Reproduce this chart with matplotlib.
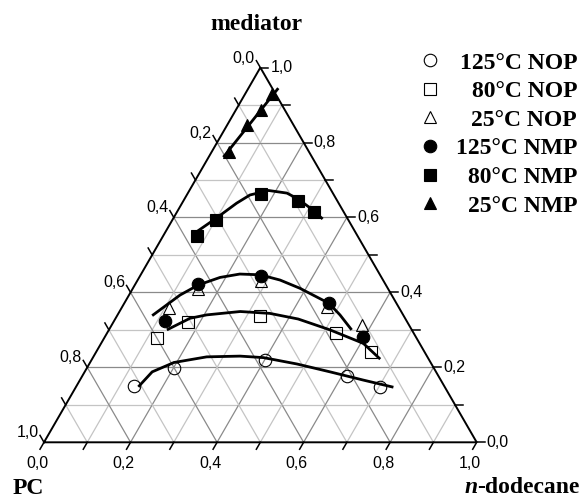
import numpy as np
import matplotlib
matplotlib.use('Agg')
import matplotlib.pyplot as plt

# ---------------- data: (n-dodecane fraction, mediator fraction) ----------------
nop125_dodecane = [0.134, 0.201, 0.401, 0.611, 0.702]
nop125_mediator = [0.150, 0.198, 0.220, 0.177, 0.148]

nop80_dodecane = [0.121, 0.171, 0.330, 0.529, 0.636]
nop80_mediator = [0.279, 0.322, 0.338, 0.291, 0.240]

nop25_dodecane = [0.111, 0.151, 0.285, 0.472, 0.578]
nop25_mediator = [0.358, 0.409, 0.431, 0.362, 0.313]

nmp125_dodecane = [0.116, 0.146, 0.278, 0.473, 0.598]
nmp125_mediator = [0.325, 0.422, 0.445, 0.371, 0.280]

nmp80_dodecane = [0.077, 0.101, 0.170, 0.265, 0.317]
nmp80_mediator = [0.551, 0.593, 0.663, 0.645, 0.615]

nmp25_dodecane = [0.061, 0.058, 0.045, 0.040]
nmp25_mediator = [0.930, 0.887, 0.847, 0.776]

# fitted curves
curve_nop125_dodecane = [0.144, 0.156, 0.194, 0.262, 0.338, 0.394, 0.480, 0.567, 0.655, 0.734]
curve_nop125_mediator = [0.148, 0.188, 0.213, 0.228, 0.230, 0.226, 0.209, 0.188, 0.166, 0.147]

curve_nop80_dodecane = [0.134, 0.172, 0.206, 0.279, 0.350, 0.423, 0.511, 0.606, 0.666]
curve_nop80_mediator = [0.300, 0.331, 0.340, 0.349, 0.344, 0.329, 0.300, 0.264, 0.222]

curve_nmp125_dodecane = [0.081, 0.118, 0.147, 0.187, 0.228, 0.276, 0.329, 0.386, 0.473, 0.514, 0.561]
curve_nmp125_mediator = [0.338, 0.393, 0.420, 0.440, 0.449, 0.447, 0.433, 0.411, 0.371, 0.340, 0.300]

curve_nmp80_dodecane = [0.072, 0.099, 0.126, 0.146, 0.183, 0.229, 0.263, 0.303, 0.346]
curve_nmp80_mediator = [0.562, 0.598, 0.638, 0.660, 0.672, 0.665, 0.649, 0.625, 0.596]

curve_nmp25_dodecane = [0.069, 0.034]
curve_nmp25_mediator = [0.945, 0.761]

tick_values = [0.0, 0.2, 0.4, 0.6, 0.8, 1.0]
tick_labels = ['0,0', '0,2', '0,4', '0,6', '0,8', '1,0']

legend_labels = ['125°C NOP', '80°C NOP', '25°C NOP', '125°C NMP', '80°C NMP', '25°C NMP']

# ---------------- geometry ----------------
S3 = np.sqrt(3) / 2
PXU = 432.7          # pixels per unit side
X0, Y0 = 44.0, 442.3  # pixel position of PC vertex (from top-left)


def tern(d, m):
    d = np.asarray(d, float)
    m = np.asarray(m, float)
    return d + m / 2, m * S3


def px(xp, yp):
    return (xp - X0) / PXU, (Y0 - yp) / PXU


fig = plt.figure(figsize=(5.83, 5.0), dpi=100)
ax = fig.add_axes([0, 0, 1, 1])
ax.set_xlim(px(0, 0)[0], px(583, 0)[0])
ax.set_ylim(px(0, 500)[1], px(0, 0)[1])
ax.axis('off')

serif = ['Liberation Serif', 'DejaVu Serif']
sans = ['Liberation Sans', 'DejaVu Sans']

# grid
for i in range(1, 10):
    t = i / 10
    col = '#8a8a8a' if i % 2 == 0 else '#c4c4c4'
    for (d1, m1, d2, m2) in [(0, t, 1 - t, t), (t, 0, t, 1 - t), (1 - t, 0, 0, 1 - t)]:
        xs, ys = tern([d1, d2], [m1, m2])
        ax.plot(xs, ys, color=col, lw=0.9, zorder=1)

# outline
xs, ys = tern([0, 1, 0, 0], [0, 0, 1, 0])
ax.plot(xs, ys, color='black', lw=1.4, zorder=2, solid_joinstyle='miter')

# ticks
L = 8 / PXU
for i in range(11):
    t = i / 10
    x, y = tern(t, 0)
    ax.plot([x, x - 0.5 * L], [y, y - S3 * L], color='black', lw=1.1, zorder=2)
    x, y = tern(1 - t, t)
    ax.plot([x, x + L], [y, y], color='black', lw=1.1, zorder=2)
    x, y = tern(0, 1 - t)
    ax.plot([x, x - 0.5 * L], [y, y + S3 * L], color='black', lw=1.1, zorder=2)

for t, lab in zip(tick_values, tick_labels):
    x, y = tern(t, 0)
    ax.text(x - 7 / PXU, y - 21.5 / PXU, lab, ha='center', va='center',
            fontsize=11.5, family=sans)
    x, y = tern(1 - t, t)
    ax.text(x + 10 / PXU, y, lab, ha='left', va='center', fontsize=11.5, family=sans)
    x, y = tern(0, 1 - t)
    ax.text(x - 5.5 / PXU, y + 9.5 / PXU, lab, ha='right', va='center',
            fontsize=11.5, family=sans)

# curves
for cd, cm in [(curve_nop125_dodecane, curve_nop125_mediator),
               (curve_nop80_dodecane, curve_nop80_mediator),
               (curve_nmp125_dodecane, curve_nmp125_mediator),
               (curve_nmp80_dodecane, curve_nmp80_mediator),
               (curve_nmp25_dodecane, curve_nmp25_mediator)]:
    xs, ys = tern(cd, cm)
    ax.plot(xs, ys, color='black', lw=2.0, zorder=3, solid_capstyle='butt')

# points
series = [
    (nop125_dodecane, nop125_mediator, 'o', 'none', 9),
    (nop80_dodecane, nop80_mediator, 's', 'none', 8),
    (nop25_dodecane, nop25_mediator, '^', 'none', 9),
    (nmp125_dodecane, nmp125_mediator, 'o', 'black', 9),
    (nmp80_dodecane, nmp80_mediator, 's', 'black', 8),
    (nmp25_dodecane, nmp25_mediator, '^', 'black', 9),
]
handles = []
for (dd, mm, mk, fc, ms), lab in zip(series, legend_labels):
    xs, ys = tern(dd, mm)
    h, = ax.plot(xs, ys, linestyle='none', marker=mk, markersize=ms,
                 markerfacecolor=fc, markeredgecolor='black',
                 markeredgewidth=0.8, zorder=4 if fc == 'none' else 5, label=lab)
    handles.append(h)

leg = ax.legend(handles=handles, loc='upper right',
                bbox_to_anchor=(577 / 583, 1 - 52 / 500), bbox_transform=fig.transFigure,
                frameon=False, borderpad=0, borderaxespad=0, handlelength=1.0,
                handletextpad=0.6, labelspacing=0.30, markerscale=1.0,
                prop={'family': serif, 'weight': 'bold', 'size': 17})
fig.canvas.draw()
renderer = fig.canvas.get_renderer()
widths = [t.get_window_extent(renderer).width for t in leg.get_texts()]
wmax = max(widths)
for t, w in zip(leg.get_texts(), widths):
    t.set_position((wmax - w, 0))

# axis titles
x, y = px(256, 29.5)
ax.text(x, y, 'mediator', ha='center', va='baseline', fontsize=17,
        fontweight='bold', family=serif)
x, y = px(13, 494)
ax.text(x, y, 'PC', ha='left', va='baseline', fontsize=17,
        fontweight='bold', family=serif)
x, y = px(580, 493)
t2 = ax.text(x, y, '-dodecane', ha='right', va='baseline', fontsize=17,
             fontweight='bold', family=serif)
fig.canvas.draw()
w = t2.get_window_extent(renderer).width
x, y = px(580 - w, 493)
ax.text(x, y, 'n', ha='right', va='baseline', fontsize=17,
        fontweight='bold', fontstyle='italic', family=serif)

fig.savefig('out.png', dpi=100)
